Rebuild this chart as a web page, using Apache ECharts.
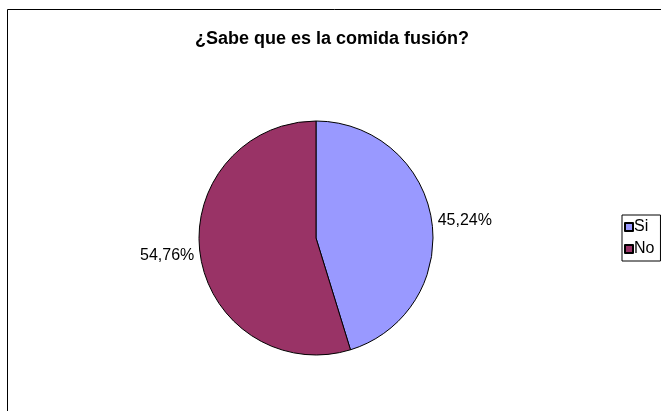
<!DOCTYPE html>
<html><head><meta charset="utf-8">
<script src="https://cdn.jsdelivr.net/npm/echarts@6/dist/echarts.min.js"></script>
<style>html,body{margin:0;padding:0;background:#fff}#c{width:661px;height:411px}</style>
</head><body><div id="c"></div>
<script>
const categories = ['Si', 'No'];
const values = [45.24, 54.76];
const colors = ['#9999FF', '#993366'];
const titleText = '¿Sabe que es la comida fusión?';

const chart = echarts.init(document.getElementById('c'));
chart.setOption({
  animation: false,
  backgroundColor: '#fff',
  textStyle: { fontFamily: 'Liberation Sans, Arial, sans-serif' },
  title: {
    text: titleText, left: 327, top: 25, textAlign: 'center',
    textStyle: { fontSize: 18, fontWeight: 'bold', color: '#000', fontFamily: 'Liberation Sans, Arial, sans-serif' }
  },
  graphic: [{
    type: 'rect', shape: { x: 7.5, y: 9.5, width: 700, height: 450 },
    style: { fill: 'none', stroke: '#000', lineWidth: 1 }, silent: true, z: -1
  }],
  legend: {
    orient: 'vertical', left: 622, top: 215,
    data: categories, icon: 'rect', itemWidth: 8, itemHeight: 8, itemGap: 6,
    padding: [4, 6, 4, 2], borderColor: '#000', borderWidth: 1, backgroundColor: '#fff',
    textStyle: { fontSize: 16, color: '#000', padding: [0, 0, 0, -4] }
  },
  series: [{
    type: 'pie', center: [316, 238], radius: [0, 117], startAngle: 90, clockwise: true,
    data: categories.map((n, i) => ({ name: n, value: values[i], itemStyle: { color: colors[i] } })),
    itemStyle: { borderColor: '#000', borderWidth: 1 },
    label: {
      show: true, position: 'outside', fontSize: 16, color: '#000',
      formatter: p => p.value.toFixed(2).replace('.', ',') + '%'
    },
    labelLine: { show: false, length: 1, length2: 0 },
    emphasis: { disabled: true }
  }]
});
</script></body></html>
